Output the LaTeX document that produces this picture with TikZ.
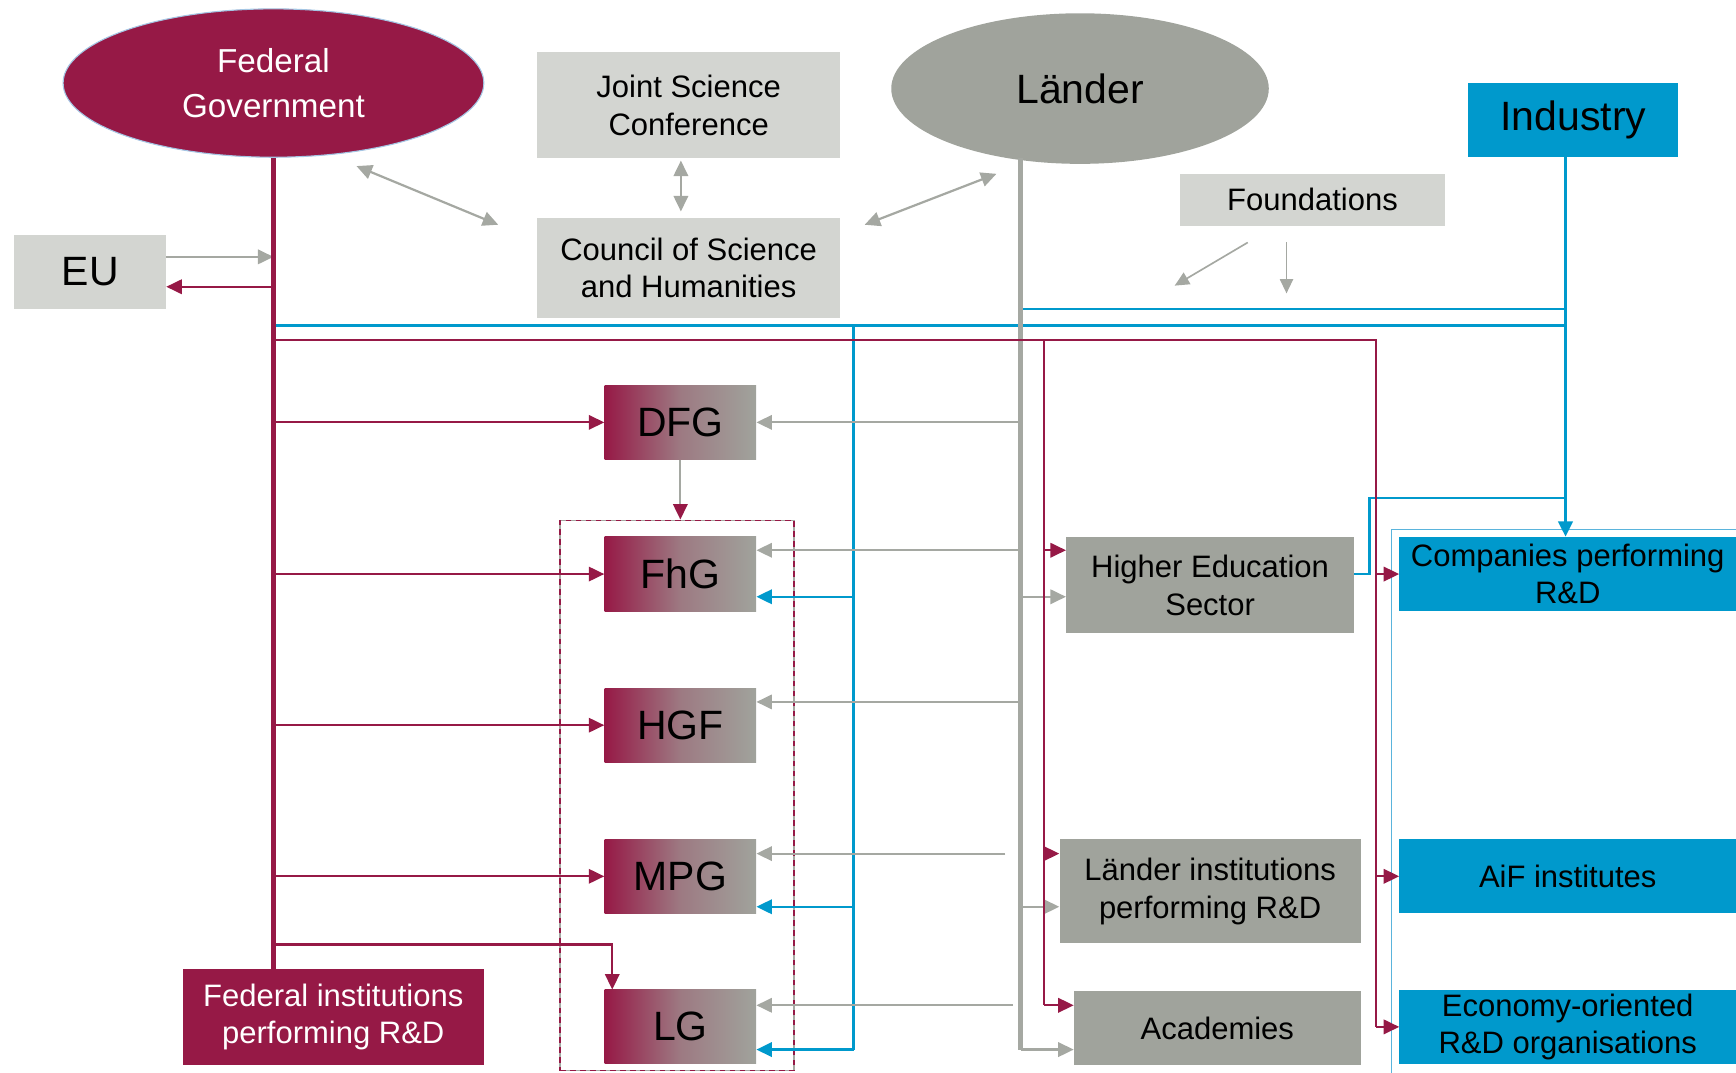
\documentclass[tikz,border=0pt]{standalone}
\usepackage{fontspec}
\setmainfont{Liberation Sans}
\usetikzlibrary{arrows.meta,shapes.geometric}
\definecolor{fedred}{RGB}{150,25,70}
\definecolor{ldgray}{RGB}{160,163,156}
\definecolor{lbgray}{RGB}{211,213,209}
\definecolor{lngray}{RGB}{165,168,162}
\definecolor{indblue}{RGB}{0,153,204}
\definecolor{edgeblue}{RGB}{165,198,228}
\definecolor{grpblue}{RGB}{90,180,220}
\tikzset{
  tA/.style={font=\fontsize{28}{34}\selectfont},
  tB/.style={font=\fontsize{37}{44}\selectfont},
  bx/.style={rectangle, inner sep=0pt, align=center, text=black},
  lbox/.style={bx, tA, fill=lbgray},
  gbox/.style={bx, tA, fill=ldgray},
  bbox/.style={bx, tA, fill=indblue},
  mbox/.style={bx, tA, fill=fedred, text=white},
  gradbox/.style={bx, tB, minimum width=137pt, minimum height=67pt,
     left color=fedred, right color=ldgray, middle color=ldgray!70!fedred},
  tipA/.style={-{Triangle[length=14pt,width=13pt]}},
  fline/.style={draw=fedred, line width=4pt},
  mline/.style={draw=fedred, line width=2pt},
  marr/.style={mline, tipA},
  lthick/.style={draw=lngray, line width=4.5pt},
  gline/.style={draw=lngray, line width=2pt},
  garr/.style={gline, tipA},
  gdbl/.style={gline, {Triangle[length=14pt,width=13pt]}-{Triangle[length=14pt,width=13pt]}},
  farr/.style={draw=lngray, line width=1.5pt, -{Triangle[length=13pt,width=12pt]}},
  bthick/.style={draw=indblue, line width=3pt},
  bline/.style={draw=indblue, line width=2.2pt},
  barr/.style={bline, tipA},
}
\begin{document}
\begin{tikzpicture}[x=1pt,y=-1pt]
\useasboundingbox (0,0) rectangle (1568,969);

% group outline on the right
\coordinate (cg1) at (1568,478);
\coordinate (cg2) at (1257,478);
\coordinate (cg3) at (1257,969);
\draw[grpblue, line width=1pt] (cg1) -- (cg2) -- (cg3);

% nodes
\node[ellipse, inner sep=0pt, minimum width=380pt, minimum height=134pt, fill=fedred,
      draw=edgeblue, line width=1pt, text=white, align=center,
      font=\fontsize{30}{40}\selectfont] (fg) at (247,75) {Federal\\Government};
\node[lbox, tB, minimum width=137pt, minimum height=67pt] (eu) at (81.5,245.5) {EU};
\node[lbox, minimum width=274pt, minimum height=96pt] (jsc) at (622,95) {Joint Science\\Conference};
\node[lbox, minimum width=274pt, minimum height=90pt] (csh) at (622,242) {Council of Science\\and Humanities};
\node[ellipse, inner sep=0pt, minimum width=341pt, minimum height=136pt, fill=ldgray, tB] (laender) at (975.5,80) {Länder};
\node[bbox, tB, minimum width=190pt, minimum height=67pt] (ind) at (1421,108.5) {Industry};
\node[lbox, minimum width=239pt, minimum height=47pt] (found) at (1185.5,180.5) {Foundations};

\node[draw=lngray, line width=1.4pt, minimum width=211pt, minimum height=497pt, inner sep=0pt,
      postaction={draw=fedred, line width=1.4pt, dash pattern=on 5pt off 4pt}] (grp) at (611.5,718.5) {};

\node[gradbox] (dfg) at (614.5,381.5) {DFG};
\node[gradbox] (fhg) at (614.5,518.5) {FhG};
\node[gradbox] (hgf) at (614.5,655) {HGF};
\node[gradbox] (mpg) at (614.5,791.5) {MPG};
\node[gradbox] (lg)  at (614.5,927.5) {LG};

\node[gbox, minimum width=260pt, minimum height=87pt] (hes) at (1093,528.5) {Higher Education\\Sector};
\node[gbox, minimum width=272pt, minimum height=94pt] (lir) at (1093,805) {Länder institutions\\performing R\&D};
\node[gbox, minimum width=259pt, minimum height=67pt] (acad) at (1099.5,928.5) {Academies};

\node[bbox, minimum width=304pt, minimum height=67pt] (comp) at (1416,518.5) {Companies performing\\R\&D};
\node[bbox, minimum width=304pt, minimum height=67pt] (aif) at (1416,791.5) {AiF institutes};
\node[bbox, minimum width=304pt, minimum height=67pt] (eco) at (1416,927.5) {Economy-oriented\\R\&D organisations};

\node[mbox, minimum width=272pt, minimum height=87pt] (fir) at (301,918.5) {Federal institutions\\performing R\&D};

% helper coordinates
\coordinate (Fx) at (247,142);
\coordinate (Lx) at (922,143);
\coordinate (Ix) at (1414,142);
\coordinate (Bx) at (771,294);
\coordinate (Mx) at (943,307);
\coordinate (Nx) at (1243,307);
\coordinate (Lm) at (908,0);
\coordinate (Ln) at (915,0);
\coordinate (y232) at (0,232);
\coordinate (y259) at (0,259);
\coordinate (y279) at (0,279);
\coordinate (ya) at (0,497);
\coordinate (yb) at (0,539);
\coordinate (yc) at (0,634);
\coordinate (yd) at (0,771);
\coordinate (ye) at (0,819);
\coordinate (yf) at (0,908);
\coordinate (yg) at (0,948);
\coordinate (lgc) at (553,853);
\coordinate (hb) at (1237,450);
\coordinate (d1) at (322,150);
\coordinate (d2) at (450,203);
\coordinate (d3) at (615,145);
\coordinate (d4) at (615,191);
\coordinate (d5) at (900,157);
\coordinate (d6) at (781,203);
\coordinate (f1) at (1127,219);
\coordinate (f2) at (1061,258);
\coordinate (f3) at (1162,219);
\coordinate (f4) at (1162,265);

% relation arrows at top
\draw[gdbl] (d1) -- (d2);
\draw[gdbl] (d3) -- (d4);
\draw[gdbl] (d5) -- (d6);
\draw[farr] (f1) -- (f2);
\draw[farr] (f3) -- (f4);

% EU
\draw[garr] (eu.east |- y232) -- (Fx |- y232);
\draw[marr] (Fx |- y259) -- (eu.east |- y259);

% blue network
\draw[bline] (Lx |- y279) -- (Ix |- y279);
\draw[bline] (Fx |- Bx) -- (Ix |- Bx);
\draw[bline] (Bx) -- (Bx |- yg);
\draw[barr] (Bx |- yb) -- (fhg.east |- yb);
\draw[barr] (Bx |- ye) -- (mpg.east |- ye);
\draw[barr] (Bx |- yg) -- (lg.east |- yg);
\draw[bline] (hes.east |- comp.west) -- (hb |- comp.west) -- (hb) -- (Ix |- hb);
\draw[bthick, tipA] (Ix) -- (Ix |- comp.north);

% Länder (gray) network
\draw[lthick] (Lx) -- (Lx |- yg);
\draw[garr] (Lx |- dfg.east) -- (dfg.east);
\draw[garr] (Lx |- ya) -- (fhg.east |- ya);
\draw[garr] (Lx |- yc) -- (hgf.east |- yc);
\draw[garr] (Lm |- yd) -- (mpg.east |- yd);
\draw[garr] (Ln |- yf) -- (lg.east |- yf);
\draw[garr] (Lx |- yb) -- (hes.west |- yb);
\draw[garr] (Lx |- ye) -- (lir.west |- ye);
\draw[garr] (Lx |- yg) -- (acad.west |- yg);
\draw[gline, -{Triangle[length=14pt,width=13pt,fill=fedred,color=fedred]}] (dfg.south) -- (dfg.south |- grp.north);

% maroon (federal) network
\draw[fline] (fg.south) -- (fg.south |- fir.north);
\draw[mline] (Fx |- Nx) -- (Nx) -- (Nx |- eco.west);
\draw[mline] (Mx) -- (Mx |- yf);
\draw[marr] (Nx |- comp.west) -- (comp.west);
\draw[marr] (Nx |- aif.west) -- (aif.west);
\draw[marr] (Nx |- eco.west) -- (eco.west);
\draw[marr] (Mx |- ya) -- (hes.west |- ya);
\draw[marr] (Mx |- yd) -- (lir.west |- yd);
\draw[marr] (Mx |- yf) -- (acad.west |- yf);
\draw[marr] (Fx |- dfg.west) -- (dfg.west);
\draw[marr] (Fx |- fhg.west) -- (fhg.west);
\draw[marr] (Fx |- hgf.west) -- (hgf.west);
\draw[marr] (Fx |- mpg.west) -- (mpg.west);
\draw[marr] (Fx |- lgc) -- (lgc) -- (lgc |- lg.north);
\end{tikzpicture}
\end{document}
